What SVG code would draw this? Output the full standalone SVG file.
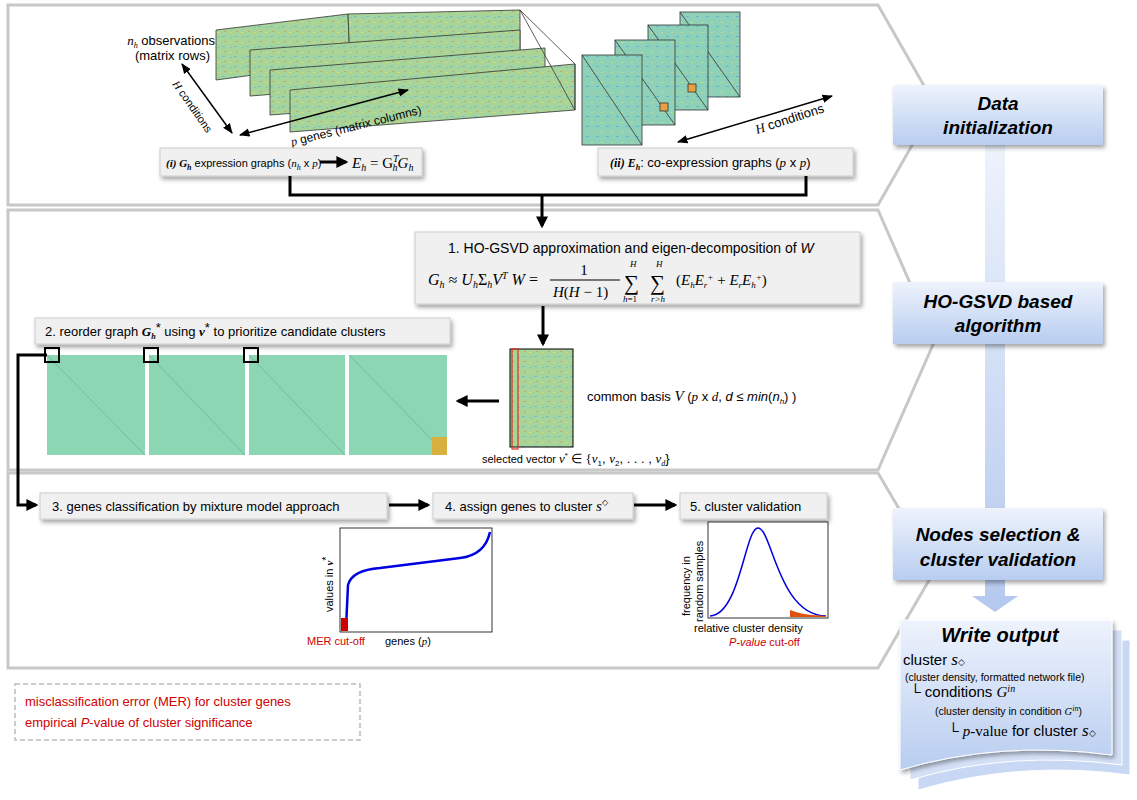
<svg xmlns="http://www.w3.org/2000/svg" width="1137" height="800" viewBox="0 0 1137 800">
<defs>
<pattern id="nz" width="12" height="10" patternUnits="userSpaceOnUse">
<rect width="12" height="10" fill="#a6d49a"/>
<rect x="1" y="2" width="3" height="1" fill="#e4d45a"/><rect x="6" y="6" width="3" height="1" fill="#6fc0c8"/>
<rect x="8" y="1" width="2" height="1" fill="#d8a050"/><rect x="2" y="7" width="2" height="1" fill="#7fc6b0"/>
</pattern>
<pattern id="nz2" width="10" height="10" patternUnits="userSpaceOnUse">
<rect width="10" height="10" fill="#8fd0b8"/>
<rect x="1" y="2" width="2" height="1" fill="#c8dc80"/><rect x="6" y="6" width="3" height="1" fill="#60b8d0"/>
</pattern>
<linearGradient id="bl" x1="0" y1="0" x2="0" y2="1"><stop offset="0" stop-color="#eef3fc"/><stop offset="1" stop-color="#b8cdf0"/></linearGradient>
<linearGradient id="arr" x1="0" y1="0" x2="0" y2="1"><stop offset="0" stop-color="#eef3fc"/><stop offset="1" stop-color="#b4c8ee"/></linearGradient>
<marker id="ah" viewBox="0 0 10 10" refX="8" refY="5" markerWidth="4" markerHeight="4" orient="auto"><path d="M0,0 L10,5 L0,10 z" fill="#000"/></marker>
<marker id="sa" viewBox="0 0 10 10" refX="9" refY="5" markerWidth="7" markerHeight="7" orient="auto-start-reverse"><path d="M0,1 L10,5 L0,9 z" fill="#000"/></marker>
<filter id="sh" x="-5%" y="-20%" width="110%" height="150%"><feDropShadow dx="2" dy="3" stdDeviation="2" flood-color="#000" flood-opacity="0.35"/></filter>
</defs>
<style>
text{font-family:"Liberation Sans",Arial,sans-serif;fill:#000}
.pn{fill:#fff;stroke:#c8c8c8;stroke-width:3}
.bx{fill:#f0f0f0;stroke:#ccc;filter:url(#sh)}
.t{font-size:13px}
.s{font-size:11px}
.m{font-family:"Liberation Serif",serif;font-style:italic}
.bt{font-size:19px;font-weight:bold;font-style:italic;text-anchor:middle}
.ln{fill:none;stroke:#000;stroke-width:3}
</style>
<rect width="1137" height="800" fill="#fff"/>
<g id="panels">
<polygon class="pn" points="8,5 878,5 935,105 878,205 8,205"/>
<polygon class="pn" points="8,210 878,210 935,340 878,470 8,470"/>
<polygon class="pn" points="8,473 878,473 935,570 878,668 8,668"/>
</g>
<g id="flow-arrow"><polygon points="985,145 1005,145 1005,596 1018,596 995,612 972,596 985,596" fill="url(#arr)"/></g>
<g id="data-init"><rect x="893" y="85" width="210" height="60" fill="url(#bl)" filter="url(#sh)"/><text class="bt" x="998" y="110">Data</text><text class="bt" x="998" y="134">initialization</text></g>
<g id="hogsvd"><rect x="893" y="282" width="210" height="62" fill="url(#bl)" filter="url(#sh)"/><text class="bt" x="998" y="308">HO-GSVD based</text><text class="bt" x="998" y="332">algorithm</text></g>
<g id="nodes-sel"><rect x="893" y="508" width="210" height="72" fill="url(#bl)" filter="url(#sh)"/><text class="bt" x="998" y="541">Nodes selection &amp;</text><text class="bt" x="998" y="566">cluster validation</text></g>
<g id="write-output">
<path d="M918,640 H1130 V775 Q1020,760 918,790 Z" fill="#c8d8f4" stroke="#fff"/>
<path d="M910,630 H1122 V765 Q1010,750 910,780 Z" fill="#d4e0f6" stroke="#fff"/>
<path d="M900,620 H1112 V755 Q1000,740 900,770 Z" fill="url(#bl)" stroke="#fff" filter="url(#sh)"/>
<text class="bt" x="1000" y="642" style="font-size:20px">Write output</text>
<text x="903" y="665" style="font-size:15px">cluster <tspan class="m" style="font-size:17px">s</tspan><tspan style="font-size:9px">◇</tspan></text>
<text x="905" y="681" style="font-size:10.5px">(cluster density, formatted network file)</text>
<text x="910" y="697" style="font-size:15px">└ conditions <tspan class="m">G</tspan><tspan class="m" style="font-size:10px" dy="-5">in</tspan></text>
<text x="935" y="715" style="font-size:10.5px">(cluster density in condition <tspan class="m">G</tspan><tspan class="m" style="font-size:8px" dy="-4">in</tspan><tspan dy="4">)</tspan></text>
<text x="948" y="736" style="font-size:15px">└ <tspan class="m">p</tspan><tspan style="font-family:'Liberation Serif',serif">-value</tspan> for cluster <tspan class="m" style="font-size:17px">s</tspan><tspan style="font-size:9px">◇</tspan></text>
</g>
<g id="expr-matrices" stroke="#333" stroke-width="0.8">
<polygon points="216,30 348,14 350,62 216,80" fill="url(#nz)"/>
<polygon points="348,14 520,10 520,52 350,62" fill="url(#nz)"/>
<polygon points="250,50 520,30 520,75 250,96" fill="url(#nz)"/>
<polygon points="270,70 545,48 545,94 270,115" fill="url(#nz)"/>
<polygon points="290,90 575,64 575,110 290,132" fill="url(#nz)"/>
<polygon points="520,10 575,64 575,110" fill="none"/>
</g>
<g id="expr-labels">
<text x="215" y="45" class="t" text-anchor="end"><tspan class="m">n</tspan><tspan style="font-size:8px" class="m" dy="3">h</tspan><tspan dy="-3"> observations</tspan></text>
<text x="210" y="60" class="t" text-anchor="end">(matrix rows)</text>
<line x1="182" y1="64" x2="232" y2="133" stroke="#000" stroke-width="1.5" marker-start="url(#sa)" marker-end="url(#sa)"/>
<text style="font-size:11px" transform="translate(172,84) rotate(55)"><tspan class="m">H</tspan> conditions</text>
<line x1="240" y1="135" x2="408" y2="90" stroke="#000" stroke-width="1.5" marker-start="url(#sa)" marker-end="url(#sa)"/>
<text style="font-size:12px" transform="translate(292,146) rotate(-14)"><tspan class="m">p</tspan> genes (matrix columns)</text>
</g>
<g id="coexpr" stroke="#333" stroke-width="0.8">
<rect x="680" y="12" width="60" height="85" fill="url(#nz2)"/><line x1="680" y1="12" x2="740" y2="97"/>
<rect x="648" y="25" width="60" height="85" fill="url(#nz2)"/><line x1="648" y1="25" x2="708" y2="110"/><rect x="688" y="84" width="8" height="8" fill="#e8a040"/>
<rect x="615" y="40" width="60" height="85" fill="url(#nz2)"/><line x1="615" y1="40" x2="675" y2="125"/><rect x="660" y="103" width="8" height="8" fill="#e8a040"/>
<rect x="582" y="55" width="60" height="90" fill="url(#nz2)"/><line x1="582" y1="55" x2="642" y2="145"/>
<line x1="678" y1="142" x2="832" y2="96" stroke="#000" stroke-width="1.5" marker-start="url(#sa)" marker-end="url(#sa)"/>
<text class="t" stroke="none" transform="translate(757,134) rotate(-18)"><tspan class="m">H</tspan> conditions</text>
</g>
<g id="box-i"><rect class="bx" x="160" y="148" width="262" height="28"/><text x="166" y="167" style="font-size:11px"><tspan class="m" font-weight="bold">(i) G</tspan><tspan class="m" font-weight="bold" style="font-size:8px" dy="3">h</tspan><tspan dy="-3"> expression graphs (</tspan><tspan class="m">n</tspan><tspan class="m" style="font-size:8px" dy="3">h</tspan><tspan dy="-3"> x </tspan><tspan class="m">p</tspan>)</text>
<line x1="320" y1="162" x2="346" y2="162" stroke="#000" stroke-width="3" marker-end="url(#ah)"/>
<text x="352" y="168" class="m" style="font-size:15px">E<tspan style="font-size:10px" dy="3">h</tspan><tspan dy="-3" font-style="normal"> = G</tspan><tspan style="font-size:10px" dy="-6">T</tspan><tspan style="font-size:10px" dx="-6" dy="9">h</tspan><tspan dy="-3">G</tspan><tspan style="font-size:10px" dy="3">h</tspan></text></g>
<g id="box-ii"><rect class="bx" x="598" y="148" width="255" height="28"/><text x="610" y="167" class="t"><tspan class="m" font-weight="bold" style="font-size:12px">(ii) E</tspan><tspan class="m" font-weight="bold" style="font-size:8px" dy="3">h</tspan><tspan dy="-3">: co-expression graphs (</tspan><tspan class="m">p</tspan> x <tspan class="m">p</tspan>)</text></g>
<g id="connectors">
<polyline class="ln" points="290,176 290,195 806,195 806,176"/>
<line class="ln" x1="542" y1="195" x2="542" y2="226" marker-end="url(#ah)"/>
<line class="ln" x1="543" y1="306" x2="543" y2="344" marker-end="url(#ah)"/>
<line class="ln" x1="499" y1="401" x2="458" y2="401" marker-end="url(#ah)"/>
<polyline class="ln" points="47,355 18,355 18,505 36,505" marker-end="url(#ah)"/>
<line class="ln" x1="389" y1="505" x2="428" y2="505" marker-end="url(#ah)"/>
<line class="ln" x1="634" y1="505" x2="675" y2="505" marker-end="url(#ah)"/>
</g>
<g id="step1"><rect class="bx" x="415" y="232" width="445" height="72"/>
<text x="448" y="253" style="font-size:14px">1.   HO-GSVD approximation and eigen-decomposition of <tspan font-style="italic">W</tspan></text>
<text x="428" y="285" class="m" style="font-size:16px">G<tspan style="font-size:10px" dy="3">h</tspan><tspan dy="-3" font-style="normal"> ≈ </tspan>U<tspan style="font-size:10px" dy="3">h</tspan><tspan dy="-3" font-style="normal">Σ</tspan><tspan style="font-size:10px" dy="3">h</tspan><tspan dy="-3">V</tspan><tspan style="font-size:10px" dy="-6">T</tspan><tspan dy="6">   W</tspan><tspan font-style="normal"> = </tspan></text>
<text x="584" y="275" style="font-size:15px;font-family:'Liberation Serif',serif" text-anchor="middle">1</text>
<line x1="550" y1="280" x2="620" y2="280" stroke="#000"/>
<text x="553" y="297" class="m" style="font-size:15px">H<tspan font-style="normal">(</tspan>H<tspan font-style="normal"> − 1)</tspan></text>
<text x="624" y="290" style="font-size:21px;font-family:'Liberation Serif',serif">∑</text>
<text x="650" y="290" style="font-size:21px;font-family:'Liberation Serif',serif">∑</text>
<text x="630" y="267" class="m" style="font-size:9px">H</text><text x="656" y="267" class="m" style="font-size:9px">H</text>
<text x="623" y="302" class="m" style="font-size:9px">h<tspan font-style="normal">=1</tspan></text>
<text x="651" y="302" class="m" style="font-size:9px">r&gt;h</text>
<text x="676" y="285" class="m" style="font-size:15px"><tspan font-style="normal">(</tspan>E<tspan style="font-size:9px" dy="3">h</tspan><tspan dy="-3">E</tspan><tspan style="font-size:9px" dy="3">r</tspan><tspan style="font-size:9px" dy="-8">+</tspan><tspan dy="5" font-style="normal"> + </tspan>E<tspan style="font-size:9px" dy="3">r</tspan><tspan dy="-3">E</tspan><tspan style="font-size:9px" dy="3">h</tspan><tspan style="font-size:9px" dy="-8">+</tspan><tspan dy="5" font-style="normal">)</tspan></text>
</g>
<g id="basisV">
<rect x="510" y="349" width="63" height="98" fill="url(#nz)" stroke="#000"/>
<rect x="512" y="349" width="6" height="100" fill="none" stroke="#e03020" stroke-width="1.2"/>
<text x="587" y="401" class="t">common basis <tspan class="m" style="font-size:15px">V</tspan> (<tspan class="m">p</tspan> x <tspan class="m">d</tspan>, <tspan font-style="italic">d</tspan> ≤ <tspan font-style="italic">min</tspan>(<tspan font-style="italic">n</tspan><tspan style="font-size:8px" font-style="italic" dy="3">h</tspan><tspan dy="-3">) )</tspan></text>
<text x="482" y="463" class="s">selected vector <tspan class="m" style="font-size:13px">v</tspan><tspan style="font-size:8px" dy="-5">*</tspan><tspan dy="5" style="font-size:13px" font-family="Liberation Serif"> ∈ {</tspan><tspan class="m" style="font-size:13px">v</tspan><tspan style="font-size:8px" dy="3">1</tspan><tspan dy="-3" style="font-size:13px">, </tspan><tspan class="m" style="font-size:13px">v</tspan><tspan style="font-size:8px" dy="3">2</tspan><tspan dy="-3" style="font-size:13px">, . . . , </tspan><tspan class="m" style="font-size:13px">v</tspan><tspan style="font-size:8px" class="m" dy="3">d</tspan><tspan dy="-3" style="font-size:13px">}</tspan></text>
</g>
<g id="step2"><rect class="bx" x="35" y="318" width="415" height="26"/>
<text x="45" y="336" class="t">2. reorder graph <tspan class="m" font-weight="bold">G</tspan><tspan class="m" font-weight="bold" style="font-size:8px" dy="3">h</tspan><tspan dy="-7">*</tspan><tspan dy="4"> using </tspan><tspan class="m" font-weight="bold">v</tspan><tspan dy="-4">*</tspan><tspan dy="4"> to prioritize candidate clusters</tspan></text></g>
<g id="heatmaps">
<rect x="47" y="355" width="98" height="100" fill="#8dd6b4"/><line x1="47" y1="355" x2="145" y2="455" stroke="#70b0a0" stroke-width="0.8"/>
<rect x="149" y="355" width="96" height="100" fill="#8dd6b4"/><line x1="149" y1="355" x2="245" y2="455" stroke="#70b0a0" stroke-width="0.8"/>
<rect x="249" y="355" width="96" height="100" fill="#8dd6b4"/><line x1="249" y1="355" x2="345" y2="455" stroke="#70b0a0" stroke-width="0.8"/>
<rect x="349" y="355" width="98" height="100" fill="#8dd6b4"/><line x1="349" y1="355" x2="447" y2="455" stroke="#70b0a0" stroke-width="0.8"/><rect x="432" y="437" width="15" height="18" fill="#d8b040"/>
<rect x="45" y="348" width="14" height="14" fill="none" stroke="#000" stroke-width="2"/>
<rect x="144" y="348" width="14" height="14" fill="none" stroke="#000" stroke-width="2"/>
<rect x="244" y="348" width="14" height="14" fill="none" stroke="#000" stroke-width="2"/>
</g>
<g id="step3"><rect class="bx" x="40" y="493" width="347" height="26"/><text x="52" y="511" class="t">3. genes classification by mixture model approach</text></g>
<g id="step4"><rect class="bx" x="433" y="493" width="200" height="26"/><text x="445" y="511" class="t">4. assign genes to cluster <tspan class="m" style="font-size:15px">s</tspan><tspan style="font-size:8px" dy="-6">◇</tspan></text></g>
<g id="step5"><rect class="bx" x="680" y="493" width="147" height="26"/><text x="690" y="511" class="t">5. cluster validation</text></g>
<g id="plot1">
<rect x="340" y="528" width="152" height="104" fill="#fff" stroke="#000" stroke-width="0.8"/>
<path d="M342,628 L346,628 L348,585 Q352,570 380,568 L460,558 Q485,555 490,532" fill="none" stroke="#0000e0" stroke-width="2.5"/>
<rect x="341" y="618" width="7" height="13" fill="#d00000"/>
<text class="s" transform="translate(333,612) rotate(-90)">values in <tspan class="m" font-weight="bold">v</tspan><tspan dy="-3">*</tspan></text>
<text x="385" y="645" class="s">genes (<tspan class="m">p</tspan>)</text>
<text x="307" y="645" class="s" style="fill:#d00000">MER cut-off</text>
</g>
<g id="plot2">
<rect x="708" y="522" width="120" height="96" fill="#fff" stroke="#000" stroke-width="0.8"/>
<path d="M710,616 C740,615 745,528 758,528 C772,528 778,615 826,616" fill="none" stroke="#0000e0" stroke-width="1.5"/>
<path d="M790,610 C800,614 810,615 826,616 L826,617 L790,617 Z" fill="#e05010"/>
<text class="s" transform="translate(690,616) rotate(-90)">frequency in</text>
<text class="s" transform="translate(703,622) rotate(-90)">random samples</text>
<text x="694" y="632" class="s">relative cluster density</text>
<text x="729" y="646" class="s" style="fill:#d00000;font-style:italic">P-value<tspan font-style="normal"> cut-off</tspan></text>
</g>
<g id="legend">
<rect x="15" y="684" width="345" height="56" fill="none" stroke="#bbb" stroke-width="1.5" stroke-dasharray="5,3"/>
<text x="25" y="706" class="t" style="fill:#d00000">misclassification error (MER) for cluster genes</text>
<text x="25" y="727" class="t" style="fill:#d00000">empirical <tspan font-style="italic">P</tspan>-value of cluster significance</text>
</g>
</svg>
